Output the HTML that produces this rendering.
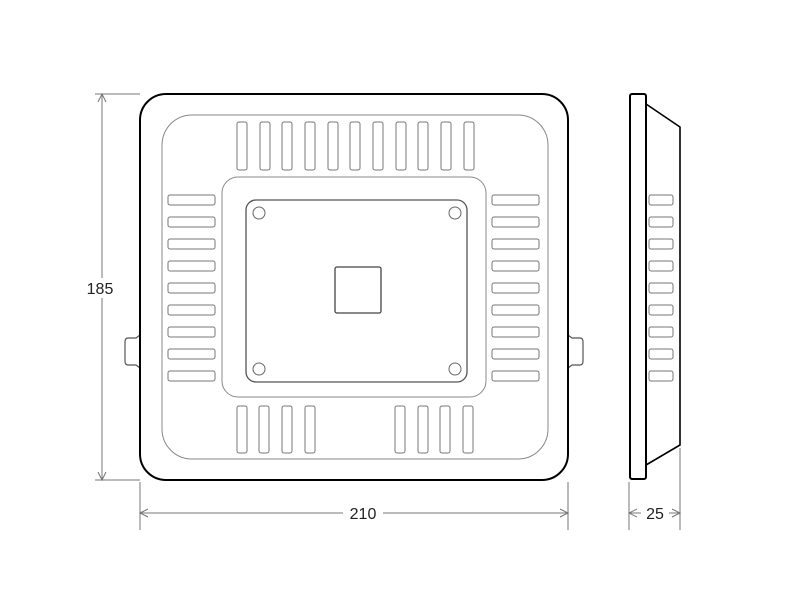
<!DOCTYPE html>
<html><head><style>html,body{margin:0;padding:0;background:#fff}svg{display:block}</style></head>
<body>
<svg width="800" height="600" xmlns="http://www.w3.org/2000/svg">
<g fill="none" stroke="#777" stroke-width="1">
  <!-- dimension lines -->
  <line x1="95" y1="94" x2="140" y2="94"/>
  <line x1="95" y1="480" x2="140" y2="480"/>
  <line x1="102" y1="94" x2="102" y2="480"/>
  <polyline points="98,102 102,94 106,102"/>
  <polyline points="98,472 102,480 106,472"/>
  <line x1="140" y1="482" x2="140" y2="530"/>
  <line x1="568" y1="482" x2="568" y2="530"/>
  <line x1="140" y1="513" x2="568" y2="513"/>
  <polyline points="148,509 140,513 148,517"/>
  <polyline points="560,509 568,513 560,517"/>
  <line x1="629" y1="482" x2="629" y2="530"/>
  <line x1="680" y1="448" x2="680" y2="530"/>
  <line x1="629" y1="513" x2="680" y2="513"/>
  <polyline points="637,509 629,513 637,517"/>
  <polyline points="672,509 680,513 672,517"/>
</g>
<g font-family="Liberation Sans, sans-serif" font-size="16" fill="#222" text-anchor="middle">
  <rect x="84" y="278" width="36" height="20" fill="#fff"/>
  <text x="100" y="294">185</text>
  <rect x="343" y="503" width="40" height="20" fill="#fff"/>
  <text x="363" y="519">210</text>
  <rect x="641" y="503" width="28" height="20" fill="#fff"/>
  <text x="655" y="519">25</text>
</g>
<!-- brackets -->
<g fill="#fff" stroke="#555" stroke-width="1.2">
  <path d="M140,335 L136,338 L128,338 Q125,338 125,342 L125,361 Q125,365 128,365 L136,365 L140,368 Z"/>
  <path d="M568,335 L572,338 L580,338 Q583,338 583,342 L583,361 Q583,365 580,365 L572,365 L568,368 Z"/>
</g>
<!-- main body -->
<rect x="140" y="94" width="428" height="386" rx="26" fill="#fff" stroke="#000" stroke-width="2"/>
<g fill="none" stroke="#888" stroke-width="1">
  <rect x="162" y="115" width="386" height="344" rx="30"/>
  <rect x="222" y="177" width="264" height="220" rx="16"/>
</g>
<rect x="246" y="200" width="221" height="182" rx="10" fill="none" stroke="#555" stroke-width="1.3"/>
<rect x="335" y="267" width="46" height="46" rx="2" fill="none" stroke="#444" stroke-width="1.3"/>
<g fill="none" stroke="#666" stroke-width="1">
  <circle cx="259" cy="213" r="6"/><circle cx="455" cy="213" r="6"/>
  <circle cx="259" cy="369" r="6"/><circle cx="455" cy="369" r="6"/>
</g>
<g fill="none" stroke="#777" stroke-width="1">
  <!-- top slots -->
  <rect x="237" y="122" width="10" height="48" rx="2"/>
  <rect x="260" y="122" width="10" height="48" rx="2"/>
  <rect x="282" y="122" width="10" height="48" rx="2"/>
  <rect x="305" y="122" width="10" height="48" rx="2"/>
  <rect x="328" y="122" width="10" height="48" rx="2"/>
  <rect x="350" y="122" width="10" height="48" rx="2"/>
  <rect x="373" y="122" width="10" height="48" rx="2"/>
  <rect x="396" y="122" width="10" height="48" rx="2"/>
  <rect x="418" y="122" width="10" height="48" rx="2"/>
  <rect x="441" y="122" width="10" height="48" rx="2"/>
  <rect x="464" y="122" width="10" height="48" rx="2"/>
  <!-- bottom slots -->
  <rect x="237" y="406" width="10" height="47" rx="2"/>
  <rect x="259" y="406" width="10" height="47" rx="2"/>
  <rect x="282" y="406" width="10" height="47" rx="2"/>
  <rect x="305" y="406" width="10" height="47" rx="2"/>
  <rect x="395" y="406" width="10" height="47" rx="2"/>
  <rect x="418" y="406" width="10" height="47" rx="2"/>
  <rect x="440" y="406" width="10" height="47" rx="2"/>
  <rect x="463" y="406" width="10" height="47" rx="2"/>
  <!-- side slots -->
  <g id="L">
    <rect x="168" y="195" width="47" height="10" rx="2"/>
    <rect x="168" y="217" width="47" height="10" rx="2"/>
    <rect x="168" y="239" width="47" height="10" rx="2"/>
    <rect x="168" y="261" width="47" height="10" rx="2"/>
    <rect x="168" y="283" width="47" height="10" rx="2"/>
    <rect x="168" y="305" width="47" height="10" rx="2"/>
    <rect x="168" y="327" width="47" height="10" rx="2"/>
    <rect x="168" y="349" width="47" height="10" rx="2"/>
    <rect x="168" y="371" width="47" height="10" rx="2"/>
  </g>
  <use href="#L" x="324"/>
</g>
<!-- side view -->
<path d="M646,104 L680,127 L680,445 L646,465" fill="#fff" stroke="#000" stroke-width="1.6"/>
<rect x="630" y="94" width="16" height="385" rx="2" fill="#fff" stroke="#000" stroke-width="2"/>
<g fill="none" stroke="#777" stroke-width="1">
  <rect x="649" y="195" width="24" height="10" rx="2"/>
  <rect x="649" y="217" width="24" height="10" rx="2"/>
  <rect x="649" y="239" width="24" height="10" rx="2"/>
  <rect x="649" y="261" width="24" height="10" rx="2"/>
  <rect x="649" y="283" width="24" height="10" rx="2"/>
  <rect x="649" y="305" width="24" height="10" rx="2"/>
  <rect x="649" y="327" width="24" height="10" rx="2"/>
  <rect x="649" y="349" width="24" height="10" rx="2"/>
  <rect x="649" y="371" width="24" height="10" rx="2"/>
</g>
</svg>
</body></html>
